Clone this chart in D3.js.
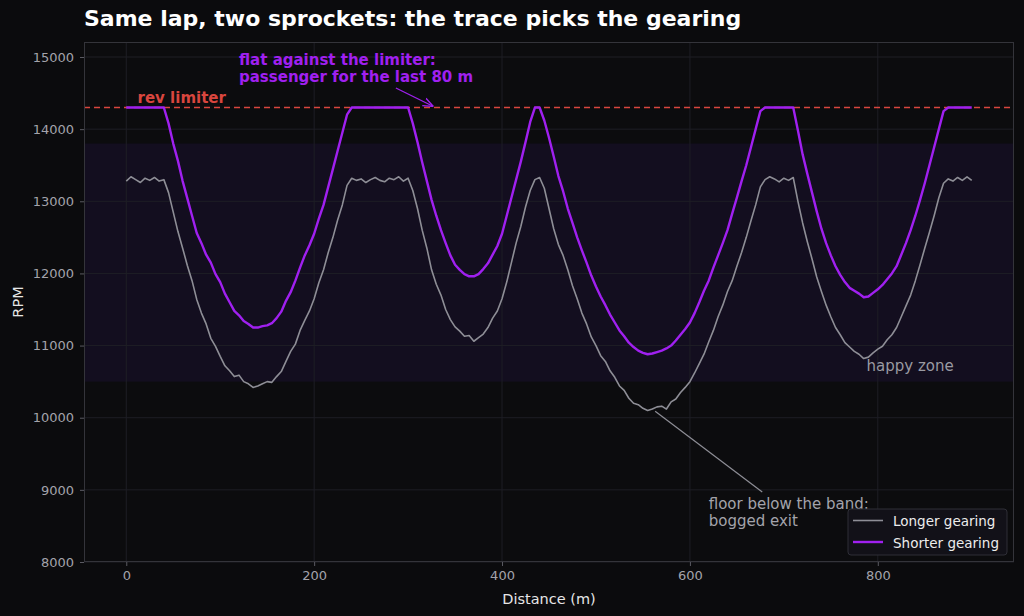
<!DOCTYPE html>
<html>
<head>
<meta charset="utf-8">
<script src="https://cdn.jsdelivr.net/npm/d3@7"></script>
<style>
  body { margin: 0; background: #0b0b0d; }
  svg { display: block; font-family: "DejaVu Sans", sans-serif; }
  .axis text { fill: #a3a3ab; font-size: 13px; font-family: "DejaVu Sans", sans-serif; }
  .axis path, .axis line { stroke: #5a5a62; }
</style>
</head>
<body>
<svg id="chart"></svg>
<script>
const w = 1024, h = 616;
const margins = { top: 42, right: 10, bottom: 54, left: 84 };

// distance along the lap, metres (5 m logging step)
const distance = [0, 5, 10, 15, 20, 25, 30, 35, 40, 45,
  50, 55, 60, 65, 70, 75, 80, 85, 90, 95,
  100, 105, 110, 115, 120, 125, 130, 135, 140, 145,
  150, 155, 160, 165, 170, 175, 180, 185, 190, 195,
  200, 205, 210, 215, 220, 225, 230, 235, 240, 245,
  250, 255, 260, 265, 270, 275, 280, 285, 290, 295,
  300, 305, 310, 315, 320, 325, 330, 335, 340, 345,
  350, 355, 360, 365, 370, 375, 380, 385, 390, 395,
  400, 405, 410, 415, 420, 425, 430, 435, 440, 445,
  450, 455, 460, 465, 470, 475, 480, 485, 490, 495,
  500, 505, 510, 515, 520, 525, 530, 535, 540, 545,
  550, 555, 560, 565, 570, 575, 580, 585, 590, 595,
  600, 605, 610, 615, 620, 625, 630, 635, 640, 645,
  650, 655, 660, 665, 670, 675, 680, 685, 690, 695,
  700, 705, 710, 715, 720, 725, 730, 735, 740, 745,
  750, 755, 760, 765, 770, 775, 780, 785, 790, 795,
  800, 805, 810, 815, 820, 825, 830, 835, 840, 845,
  850, 855, 860, 865, 870, 875, 880, 885, 890, 895, 900];

const longerRpm = [13280, 13340, 13300, 13260, 13320, 13290, 13330, 13280, 13300, 13120,
  12850, 12580, 12350, 12110, 11900, 11640, 11450, 11300, 11100, 10990,
  10850, 10720, 10650, 10570, 10590, 10500, 10470, 10420, 10440, 10470,
  10500, 10490, 10570, 10640, 10780, 10920, 11020, 11210, 11350, 11480,
  11650, 11870, 12050, 12290, 12500, 12740, 12950, 13220, 13320, 13290,
  13310, 13260, 13300, 13330, 13290, 13270, 13320, 13300, 13340, 13280,
  13320, 13150, 12900, 12600, 12350, 12050, 11850, 11700, 11500, 11360,
  11260, 11200, 11130, 11140, 11060, 11110, 11160, 11250, 11380, 11480,
  11650, 11880, 12150, 12420, 12650, 12920, 13150, 13300, 13330, 13180,
  12900, 12620, 12400, 12250, 12050, 11830, 11650, 11450, 11300, 11120,
  11000, 10860, 10780, 10650, 10560, 10440, 10380, 10270, 10200, 10180,
  10130, 10100, 10120, 10150, 10160, 10120, 10220, 10260, 10350, 10420,
  10500, 10620, 10750, 10880, 11050, 11210, 11400, 11560, 11750, 11900,
  12100, 12290, 12500, 12730, 12950, 13200, 13300, 13340, 13310, 13270,
  13320, 13290, 13330, 13000, 12700, 12440, 12200, 11950, 11750, 11560,
  11400, 11250, 11150, 11040, 10980, 10920, 10880, 10820, 10840, 10900,
  10950, 10990, 11080, 11150, 11250, 11400, 11550, 11700, 11900, 12120,
  12350, 12570, 12800, 13050, 13250, 13310, 13280, 13330, 13290, 13340, 13290];

const shorterRpm = [14300, 14300, 14300, 14300, 14300, 14300, 14300, 14300, 14300, 14080,
  13800, 13560, 13280, 13040, 12800, 12560, 12420, 12260, 12150, 11990,
  11880, 11720, 11600, 11480, 11420, 11340, 11300, 11250, 11250, 11270,
  11280, 11310, 11380, 11470, 11620, 11740, 11900, 12080, 12250, 12390,
  12550, 12760, 12950, 13200, 13450, 13700, 13950, 14200, 14300, 14300,
  14300, 14300, 14300, 14300, 14300, 14300, 14300, 14300, 14300, 14300,
  14300, 14080, 13820, 13540, 13280, 13020, 12800, 12600, 12420, 12250,
  12120, 12050, 11990, 11960, 11960, 11990, 12060, 12140, 12260, 12380,
  12550, 12800, 13050, 13300, 13550, 13820, 14100, 14300, 14300, 14120,
  13880, 13620, 13350, 13140, 12900, 12700, 12500, 12320, 12150, 11970,
  11820, 11680, 11560, 11430, 11320, 11210, 11130, 11040, 10980, 10930,
  10900, 10880, 10890, 10910, 10930, 10960, 11000, 11070, 11150, 11230,
  11320, 11450, 11600, 11760, 11900, 12080, 12250, 12420, 12600, 12830,
  13050, 13280, 13500, 13750, 14000, 14250, 14300, 14300, 14300, 14300,
  14300, 14300, 14300, 13980, 13650, 13380, 13120, 12860, 12620, 12420,
  12250, 12100, 11980, 11880, 11800, 11760, 11720, 11670, 11680, 11730,
  11780, 11840, 11920, 12000, 12100, 12260, 12420, 12600, 12800, 13020,
  13250, 13500, 13750, 14000, 14250, 14300, 14300, 14300, 14300, 14300, 14300];

const seriesNames = ["Longer gearing", "Shorter gearing"];
const seriesColors = ["#8e8e96", "#a020f0"];

const revLimit = 14300;
const happyBand = [10500, 13800];
const xTicks = [0, 200, 400, 600, 800];
const yTicks = [8000, 9000, 10000, 11000, 12000, 13000, 14000, 15000];

const svg = d3.select('#chart')
  .attr('width', w)
  .attr('height', h);

svg.append('rect').attr('width', w).attr('height', h).attr('fill', '#0b0b0d');

const xScale = d3.scaleLinear()
  .domain([-45, 945])
  .range([margins.left, w - margins.right]);

const yScale = d3.scaleLinear()
  .domain([8000, 15208])
  .range([h - margins.bottom, margins.top]);

// plot background
svg.append('rect')
  .attr('x', margins.left).attr('y', margins.top)
  .attr('width', w - margins.left - margins.right)
  .attr('height', h - margins.top - margins.bottom)
  .attr('fill', '#0c0c0e');

// happy band
svg.append('rect')
  .attr('x', margins.left)
  .attr('y', yScale(happyBand[1]))
  .attr('width', w - margins.left - margins.right)
  .attr('height', yScale(happyBand[0]) - yScale(happyBand[1]))
  .attr('fill', '#130e1f');

// grid
svg.append('g').selectAll('line')
  .data(xTicks)
  .join('line')
  .attr('x1', d => xScale(d)).attr('x2', d => xScale(d))
  .attr('y1', margins.top).attr('y2', h - margins.bottom)
  .attr('stroke', '#1e1e25').attr('stroke-width', 1);

svg.append('g').selectAll('line')
  .data(yTicks)
  .join('line')
  .attr('x1', margins.left).attr('x2', w - margins.right)
  .attr('y1', d => yScale(d)).attr('y2', d => yScale(d))
  .attr('stroke', '#1e1e25').attr('stroke-width', 1);

// rev limiter
svg.append('line')
  .attr('x1', margins.left).attr('x2', w - margins.right)
  .attr('y1', yScale(revLimit)).attr('y2', yScale(revLimit))
  .attr('stroke', '#d9463e')
  .attr('stroke-width', 1.6)
  .attr('stroke-dasharray', '6,4');

// traces
const line = d3.line()
  .x((d, i) => xScale(distance[i]))
  .y(d => yScale(d));

[longerRpm, shorterRpm].forEach((s, k) => {
  svg.append('path')
    .datum(s)
    .attr('d', line)
    .attr('fill', 'none')
    .attr('stroke', seriesColors[k])
    .attr('stroke-width', k == 0 ? 1.6 : 2.4)
    .attr('stroke-linejoin', 'round');
});

// frame
svg.append('rect')
  .attr('x', margins.left + 0.5).attr('y', margins.top + 0.5)
  .attr('width', w - margins.left - margins.right - 1)
  .attr('height', h - margins.top - margins.bottom - 1)
  .attr('fill', 'none')
  .attr('stroke', '#34343a');

// axes
const xAxisGroup = svg.append('g')
  .attr('class', 'axis')
  .attr('transform', `translate(0, ${h - margins.bottom})`)
  .call(d3.axisBottom(xScale).tickValues(xTicks).tickSize(4).tickPadding(5));

const yAxisGroup = svg.append('g')
  .attr('class', 'axis')
  .attr('transform', `translate(${margins.left}, 0)`)
  .call(d3.axisLeft(yScale).tickValues(yTicks).tickFormat(d3.format('d')).tickSize(4).tickPadding(6));

xAxisGroup.select('.domain').remove();
yAxisGroup.select('.domain').remove();

// axis labels
svg.append('text')
  .attr('x', (margins.left + w - margins.right) / 2)
  .attr('y', 604)
  .attr('text-anchor', 'middle')
  .attr('fill', '#e6e6e6')
  .style('font-size', '14.5px')
  .text('Distance (m)');

svg.append('text')
  .attr('transform', `translate(23, ${(margins.top + h - margins.bottom) / 2}) rotate(-90)`)
  .attr('text-anchor', 'middle')
  .attr('fill', '#e6e6e6')
  .style('font-size', '14.5px')
  .text('RPM');

// title
svg.append('text')
  .attr('x', 84).attr('y', 26)
  .attr('fill', '#ffffff')
  .style('font-size', '22px')
  .style('font-weight', 'bold')
  .text('Same lap, two sprockets: the trace picks the gearing');

// annotations
svg.append('text')
  .attr('x', xScale(12)).attr('y', yScale(revLimit) - 5)
  .attr('fill', '#d9463e')
  .style('font-size', '15px')
  .style('font-weight', 'bold')
  .text('rev limiter');

svg.append('text')
  .attr('x', xScale(788)).attr('y', 371)
  .attr('fill', '#9a9aa2')
  .style('font-size', '15px')
  .text('happy zone');

svg.append('defs').append('marker')
  .attr('id', 'head')
  .attr('viewBox', '0 0 10 10')
  .attr('refX', 10).attr('refY', 5)
  .attr('markerWidth', 8).attr('markerHeight', 8)
  .attr('orient', 'auto')
  .append('path')
  .attr('d', 'M0,1 L10,5 L0,9')
  .attr('fill', 'none')
  .attr('stroke', '#a020f0')
  .attr('stroke-width', 1.4);

const flat = svg.append('text')
  .attr('fill', '#a020f0')
  .style('font-size', '15px')
  .style('font-weight', 'bold');
flat.append('tspan').attr('x', xScale(120)).attr('y', 65).text('flat against the limiter:');
flat.append('tspan').attr('x', xScale(120)).attr('y', 82).text('passenger for the last 80 m');

svg.append('line')
  .attr('x1', xScale(287)).attr('y1', 88)
  .attr('x2', xScale(327)).attr('y2', yScale(revLimit) - 1)
  .attr('stroke', '#a020f0')
  .attr('stroke-width', 1.3)
  .attr('marker-end', 'url(#head)');

const floor = svg.append('text')
  .attr('fill', '#a3a3ab')
  .style('font-size', '15px');
floor.append('tspan').attr('x', xScale(620)).attr('y', 509).text('floor below the band:');
floor.append('tspan').attr('x', xScale(620)).attr('y', 526).text('bogged exit');

svg.append('line')
  .attr('x1', xScale(677)).attr('y1', 492)
  .attr('x2', xScale(563)).attr('y2', yScale(10090))
  .attr('stroke', '#8e8e96')
  .attr('stroke-width', 1.2);

// legend
const legend = svg.append('g').attr('transform', 'translate(848, 509)');
legend.append('rect')
  .attr('width', 159).attr('height', 46).attr('rx', 3)
  .attr('fill', '#121118').attr('stroke', '#2e2e36');
seriesNames.forEach((name, i) => {
  legend.append('line')
    .attr('x1', 5).attr('x2', 35)
    .attr('y1', 11.5 + i * 21.5).attr('y2', 11.5 + i * 21.5)
    .attr('stroke', seriesColors[i])
    .attr('stroke-width', i == 0 ? 1.6 : 2.4);
  legend.append('text')
    .attr('x', 45).attr('y', 17 + i * 21.5)
    .attr('fill', '#ececec')
    .style('font-size', '13.5px')
    .text(name);
});
</script>
</body>
</html>
